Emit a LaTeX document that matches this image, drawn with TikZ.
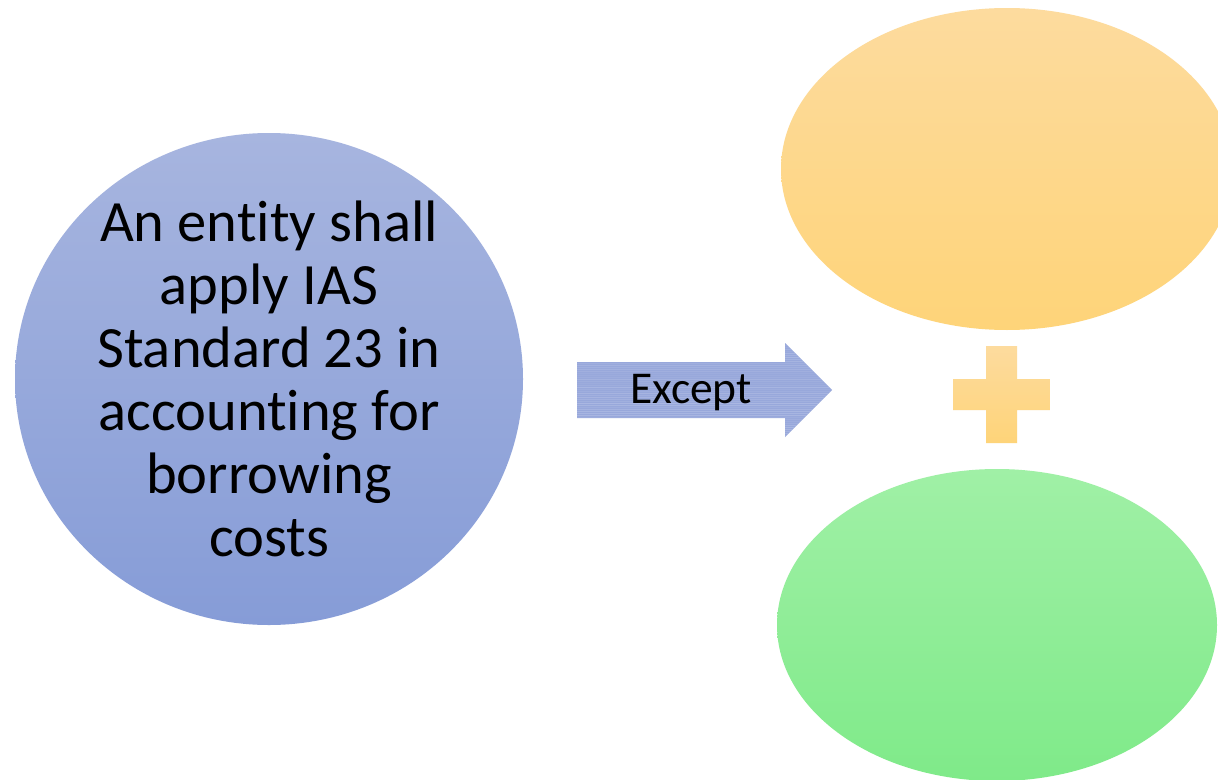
\documentclass[tikz,border=0pt]{standalone}
\usepackage{fontspec}
\setmainfont{Carlito}[Ligatures=NoCommon]
\usetikzlibrary{shapes.geometric}

\definecolor{blueTop}{HTML}{A7B5DF}
\definecolor{blueBot}{HTML}{869CD7}
\definecolor{arrowFill}{HTML}{98A8DB}
\definecolor{arrowLine}{HTML}{B4C0E6}
\definecolor{orangeTop}{HTML}{FDDB9E}
\definecolor{orangeBot}{HTML}{FED479}
\definecolor{greenTop}{HTML}{A0F0A6}
\definecolor{greenBot}{HTML}{7FEA89}

\tikzset{
  blob/.style={ellipse, draw=none, inner sep=0pt},
  bigtext/.style={font=\fontsize{58.5}{63}\selectfont, align=center, inner sep=0pt},
  arrowtext/.style={font=\fontsize{45.5}{50}\selectfont, inner sep=0pt}
}

\begin{document}
\begin{tikzpicture}[x=1pt, y=-1pt]
\useasboundingbox (0,0) rectangle (1218,779);
\clip (0,0) rectangle (1218,779);
\fill[white] (0,0) rectangle (1218,779);

% main circle with its statement
\node[blob, minimum width=508pt, minimum height=492pt,
      top color=blueTop, bottom color=blueBot] (entity) at (269,379) {};
\node[bigtext] (entitytext) at (269,379)
  {An entity shall\\apply IAS\\Standard 23 in\\accounting for\\borrowing\\costs};

% block arrow with a striped texture
\begin{scope}
  \path[clip] (577,362) -- (785,362) -- (785,343) -- (832,390)
              -- (785,437) -- (785,418) -- (577,418) -- cycle;
  \fill[arrowFill] (570,340) rectangle (840,440);
  \pgfmathsetseed{7}
  \foreach \yy in {343,345,...,437} {
    \pgfmathsetmacro{\op}{0.15+0.5*rnd}
    \draw[arrowLine, line width=0.8pt, opacity=\op] (570,\yy) -- (840,\yy);
  }
\end{scope}
\node[arrowtext, anchor=base] (except) at (691,403) {Except};

% the two outcome ellipses
\node[blob, minimum width=452pt, minimum height=322pt,
      top color=orangeTop, bottom color=orangeBot] (upper) at (1007,169) {};
\node[blob, minimum width=440pt, minimum height=312pt,
      top color=greenTop, bottom color=greenBot] (lower) at (997,625) {};

% plus sign between them
\shade[top color=orangeTop, bottom color=orangeBot]
  (953,379) -- (986,379) -- (986,346) -- (1017,346) -- (1017,379)
  -- (1050,379) -- (1050,410) -- (1017,410) -- (1017,443)
  -- (986,443) -- (986,410) -- (953,410) -- cycle;
\end{tikzpicture}
\end{document}
